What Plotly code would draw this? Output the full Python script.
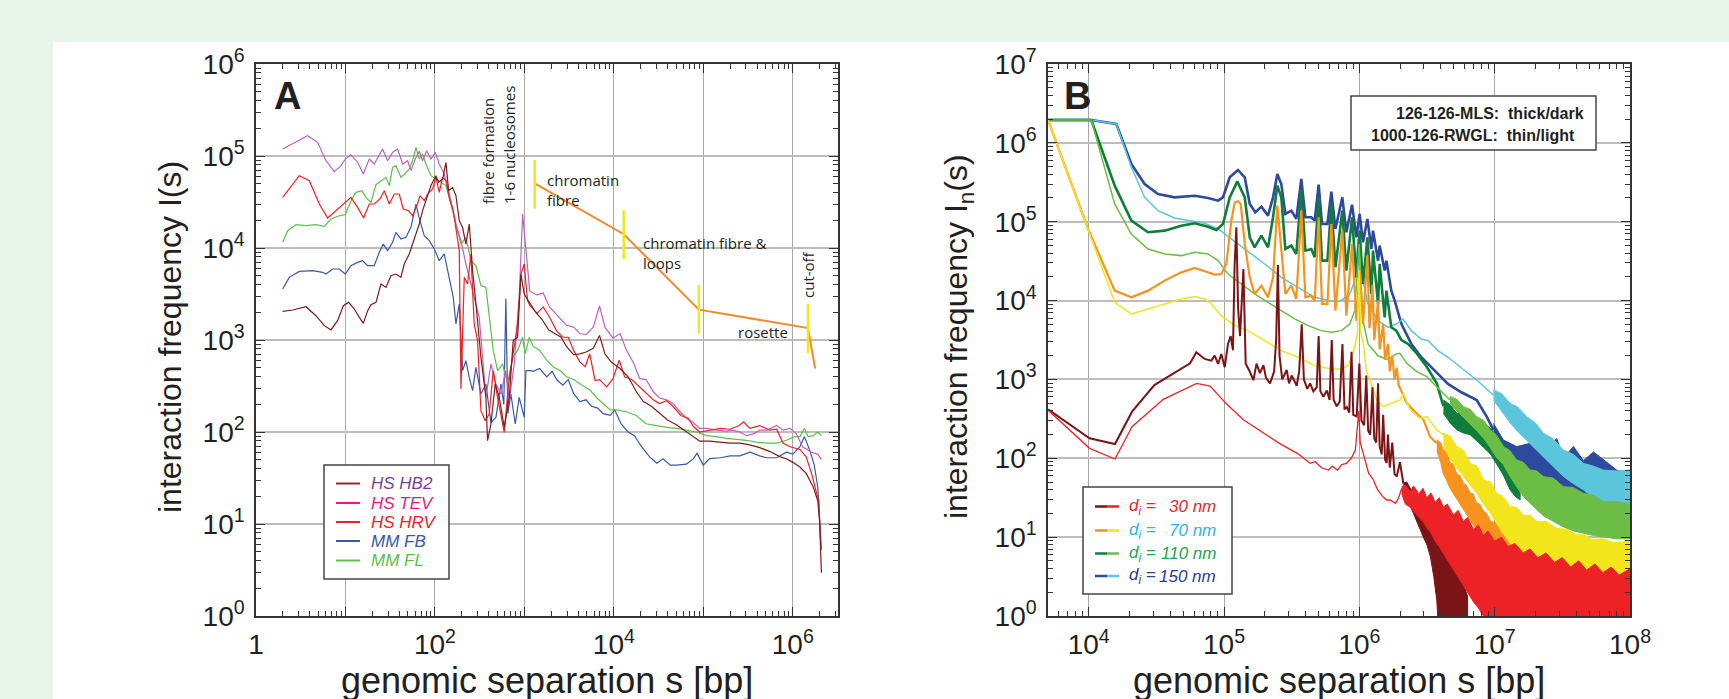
import plotly.graph_objects as go

W, H = 1729, 699

# ---------------- Panel A data: (log10 s [bp], log10 I(s)) ----------------
A_HS_HB2 = [(0.298,3.312),(0.410,3.326),(0.559,3.362),(0.670,3.264),(0.764,3.156),(0.838,3.109),(0.912,3.210),(0.976,3.373),(1.035,3.409),(1.099,3.337),(1.155,3.246),(1.199,3.181),(1.248,3.319),(1.285,3.384),(1.341,3.409),(1.397,3.609),(1.453,3.572),(1.508,3.699),(1.564,3.717),(1.620,3.681),(1.657,3.826),(1.713,3.935),(1.769,4.098),(1.825,4.261),(1.862,4.406),(1.918,4.569),(1.955,4.678),(2.011,4.786),(2.041,4.714),(2.086,4.750),(2.123,4.931),(2.153,4.623),(2.197,4.659),(2.235,4.569),(2.272,4.297),(2.309,4.225),(2.346,4.043),(2.384,4.261),(2.421,3.754),(2.466,3.319),(2.514,2.812),(2.570,2.377),(2.588,1.906),(2.626,2.087),(2.674,2.522),(2.719,2.377),(2.775,2.051),(2.831,2.377),(2.875,2.993),(2.924,3.029),(2.961,3.717),(2.998,3.500),(3.03,3.45),(3.12,3.31),(3.20,3.22),(3.27,3.11),(3.34,3.07),(3.41,3.03),(3.47,2.93),(3.55,2.84),(3.62,2.85),(3.69,2.87),(3.77,2.91),(3.84,3.05),(3.90,2.85),(3.97,2.76),(4.07,2.69),(4.16,2.60),(4.25,2.44),(4.33,2.33),(4.42,2.28),(4.51,2.20),(4.60,2.13),(4.70,2.08),(4.79,2.02),(4.89,1.95),(4.96,1.90),(5.07,1.90),(5.19,1.89),(5.30,1.88),(5.41,1.88),(5.52,1.86),(5.63,1.83),(5.74,1.79),(5.86,1.73),(5.93,1.71),(6.00,1.67),(6.08,1.62),(6.15,1.55),(6.23,1.40),(6.28,1.25),(6.30,1.03),(6.32,0.47)]
A_HS_TEV = [(0.298,5.076),(0.577,5.221),(0.689,5.149),(0.782,4.949),(0.875,4.830),(0.950,4.895),(0.998,4.967),(1.061,5.014),(1.136,4.931),(1.199,4.804),(1.266,4.967),(1.322,4.913),(1.415,5.076),(1.471,4.949),(1.527,5.040),(1.583,5.076),(1.639,4.913),(1.695,4.949),(1.732,4.841),(1.780,4.967),(1.825,5.051),(1.862,4.949),(1.907,5.058),(1.955,4.967),(2.004,5.040),(2.048,4.913),(2.104,4.804),(2.160,4.587),(2.235,4.261),(2.291,4.080),(2.346,3.826),(2.421,3.536),(2.495,3.246),(2.570,2.377),(2.626,2.739),(2.682,2.522),(2.737,2.413),(2.793,2.667),(2.831,2.341),(2.886,2.739),(2.942,3.464),(2.980,4.370),(3.06,3.53),(3.14,3.49),(3.21,3.51),(3.28,3.36),(3.38,3.25),(3.47,3.16),(3.55,3.14),(3.62,3.07),(3.69,3.06),(3.77,3.14),(3.84,3.37),(3.90,3.14),(3.99,3.02),(4.07,3.07),(4.14,2.89),(4.22,2.75),(4.29,2.58),(4.36,2.57),(4.44,2.44),(4.51,2.37),(4.59,2.35),(4.66,2.31),(4.74,2.22),(4.81,2.15),(4.89,2.10),(4.96,2.04),(5.04,2.04),(5.15,2.02),(5.26,2.01),(5.33,2.02),(5.41,2.00),(5.48,1.96),(5.56,1.98),(5.63,2.02),(5.71,2.02),(5.82,2.07),(5.89,2.02),(5.97,2.04),(6.04,1.98),(6.11,1.84),(6.21,1.78),(6.28,1.76),(6.32,1.70)]
A_HS_HRV = [(0.298,4.551),(0.484,4.786),(0.596,4.732),(0.708,4.478),(0.801,4.326),(0.894,4.406),(0.998,4.496),(1.061,4.551),(1.136,4.442),(1.203,4.326),(1.266,4.478),(1.322,4.478),(1.385,4.533),(1.434,4.623),(1.490,4.478),(1.546,4.587),(1.601,4.587),(1.646,4.424),(1.706,4.406),(1.750,4.351),(1.806,4.478),(1.832,4.569),(1.881,4.514),(1.918,4.587),(1.974,4.641),(2.011,4.768),(2.048,4.605),(2.086,4.768),(2.123,4.732),(2.160,4.551),(2.205,4.406),(2.235,4.225),(2.272,3.971),(2.291,2.467),(2.328,3.681),(2.365,3.609),(2.402,3.935),(2.439,3.174),(2.477,2.993),(2.514,2.232),(2.562,2.123),(2.607,2.196),(2.652,2.667),(2.700,2.377),(2.775,1.996),(2.823,2.522),(2.868,2.812),(2.924,3.174),(2.961,3.717),(2.998,3.826),(3.035,3.428),(3.06,3.38),(3.14,3.29),(3.21,3.36),(3.28,3.25),(3.36,3.10),(3.43,3.03),(3.49,3.03),(3.55,2.89),(3.62,2.76),(3.68,2.71),(3.73,2.85),(3.79,2.56),(3.84,2.57),(3.92,2.49),(3.99,2.58),(4.06,2.78),(4.12,2.60),(4.20,2.57),(4.29,2.49),(4.36,2.42),(4.44,2.35),(4.51,2.31),(4.59,2.34),(4.66,2.28),(4.75,2.18),(4.83,2.15),(4.89,2.06),(4.96,2.00),(5.07,2.02),(5.19,2.04),(5.30,2.03),(5.40,2.07),(5.45,2.11),(5.52,2.04),(5.63,2.07),(5.74,2.02),(5.82,2.03),(5.89,1.88),(5.97,1.84),(6.08,1.81),(6.15,1.73),(6.21,1.55),(6.26,1.36),(6.29,1.25),(6.31,0.83)]
A_MM_FB = [(0.298,3.554),(0.372,3.681),(0.484,3.746),(0.633,3.754),(0.745,3.736),(0.782,3.717),(0.857,3.772),(0.931,3.772),(0.998,3.717),(1.061,3.808),(1.136,3.844),(1.192,3.862),(1.248,3.808),(1.322,3.808),(1.378,3.953),(1.423,4.043),(1.471,3.971),(1.527,4.062),(1.564,4.170),(1.620,4.098),(1.676,4.116),(1.732,4.225),(1.788,4.478),(1.832,4.297),(1.881,4.134),(1.937,4.080),(1.993,3.989),(2.048,3.862),(2.104,3.935),(2.160,3.681),(2.205,3.464),(2.235,3.174),(2.272,3.391),(2.309,2.667),(2.346,2.775),(2.384,2.594),(2.421,2.449),(2.458,2.703),(2.514,2.413),(2.570,2.522),(2.626,2.105),(2.682,2.159),(2.737,2.522),(2.770,2.3),(2.793,3.45),(2.815,2.2),(2.849,2.413),(2.898,2.087),(2.942,2.377),(2.998,2.159),(3.017,2.667),(3.073,2.667),(3.10,2.66),(3.17,2.69),(3.25,2.60),(3.31,2.66),(3.36,2.57),(3.43,2.51),(3.49,2.57),(3.55,2.42),(3.62,2.33),(3.69,2.35),(3.75,2.28),(3.82,2.26),(3.88,2.20),(3.96,2.18),(4.01,2.24),(4.08,2.09),(4.16,2.00),(4.23,1.96),(4.31,1.84),(4.40,1.73),(4.48,1.66),(4.55,1.71),(4.63,1.64),(4.70,1.64),(4.81,1.65),(4.89,1.71),(4.93,1.77),(5.00,1.64),(5.07,1.71),(5.19,1.72),(5.30,1.74),(5.41,1.74),(5.52,1.78),(5.63,1.74),(5.71,1.72),(5.82,1.72),(5.93,1.78),(6.00,1.76),(6.08,1.84),(6.13,1.95),(6.19,1.80),(6.24,1.64),(6.28,1.40),(6.32,0.72)]
A_MM_FL = [(0.298,4.062),(0.354,4.188),(0.447,4.254),(0.559,4.243),(0.670,4.254),(0.764,4.236),(0.838,4.315),(0.931,4.351),(0.998,4.362),(1.061,4.514),(1.117,4.605),(1.184,4.623),(1.229,4.551),(1.285,4.496),(1.341,4.688),(1.397,4.732),(1.453,4.768),(1.490,4.678),(1.527,4.877),(1.564,4.895),(1.620,4.768),(1.657,4.797),(1.713,4.859),(1.750,4.949),(1.788,5.094),(1.825,4.967),(1.862,5.022),(1.899,4.913),(1.955,4.786),(2.011,4.750),(2.067,4.714),(2.123,4.678),(2.179,4.478),(2.235,4.261),(2.291,4.043),(2.346,4.116),(2.402,3.862),(2.458,3.808),(2.514,3.591),(2.570,3.572),(2.607,3.246),(2.652,2.884),(2.700,2.667),(2.756,2.739),(2.812,2.522),(2.868,2.812),(2.924,2.884),(2.980,3.029),(3.009,2.848),(3.054,3.029),(3.10,2.93),(3.17,2.89),(3.25,2.78),(3.32,2.71),(3.41,2.66),(3.47,2.60),(3.55,2.57),(3.64,2.51),(3.73,2.46),(3.81,2.37),(3.88,2.31),(3.96,2.24),(4.03,2.24),(4.14,2.22),(4.25,2.18),(4.36,2.09),(4.48,2.07),(4.59,2.05),(4.70,2.04),(4.81,2.02),(4.92,2.00),(5.04,1.96),(5.15,1.95),(5.26,1.93),(5.37,1.92),(5.48,1.91),(5.59,1.89),(5.71,1.88),(5.82,1.88),(5.93,1.91),(6.02,1.95),(6.08,1.95),(6.13,2.04),(6.17,1.95),(6.23,1.96),(6.28,2.00),(6.32,1.96)]

# regime guide (orange polyline) and yellow boundary markers: (log10 s, log10 I lo, log10 I hi)
A_REGIME_PATH = [(3.12,4.70),(4.11,4.15),(4.95,3.33),(6.17,3.13),(6.25,2.69)]
A_REGIME_MARKS = [(3.115,4.43,4.96),(4.11,3.88,4.41),(4.95,3.07,3.60),(6.17,2.86,3.39)]

# ---------------- Panel B data: (log10 s, log10 I_n(s)); noisy tails as (log10 s, lo, hi) ----------------
B_30_THICK = [(3.699,2.62),(4.006,2.253),(4.194,2.181),(4.32,2.591),(4.485,2.929),(4.65,3.098),(4.749,3.204),(4.795,3.344),(4.857,3.26),(4.906,3.238),(4.931,3.302),(4.956,3.196),(4.98,3.323),(5.005,3.154),(5.029,3.45),(5.049,3.55),(5.066,3.37),(5.078,4.45),(5.091,4.93),(5.104,3.9),(5.118,3.55),(5.143,4.4),(5.16,3.2),(5.19,3.1),(5.217,2.99),(5.24,3.2),(5.265,3.08),(5.291,3.18),(5.31,3.02),(5.34,2.95),(5.37,3.1),(5.385,3.5),(5.398,4.45),(5.41,3.3),(5.43,3.0),(5.463,3.12),(5.48,2.95),(5.50,3.05),(5.537,2.92),(5.555,3.1),(5.574,3.7),(5.59,3.0),(5.615,2.88),(5.636,2.95),(5.66,2.85),(5.685,2.9),(5.699,3.55),(5.712,2.85),(5.734,2.78),(5.76,2.86),(5.78,2.74),(5.796,3.5),(5.81,2.74),(5.833,2.66),(5.855,2.72),(5.875,3.45),(5.89,2.62),(5.907,2.65),(5.925,2.58),(5.942,3.35),(5.955,2.55),(5.98,2.53),(6.0,3.2),(6.015,2.48),(6.035,2.42),(6.051,3.05),(6.065,2.35),(6.08,2.3),(6.097,2.9),(6.11,2.25),(6.125,2.2),(6.138,2.95),(6.15,2.15),(6.165,2.05),(6.176,2.55),(6.19,1.98),(6.202,1.94),(6.211,2.3),(6.225,1.88),(6.243,2.2),(6.26,1.8),(6.276,1.77),(6.3,1.95),(6.325,1.68)]
B_30_THICK_TAIL = [(6.325,1.56,1.683),(6.35,1.48,1.7),(6.375,1.40,1.62),(6.40,1.3,1.58),(6.424,1.2,1.47),(6.45,1.1,1.45),(6.473,1.0,1.35),(6.50,0.9,1.32),(6.525,0.75,1.2),(6.55,0.5,1.18),(6.572,0.2,1.09),(6.596,-0.5,1.05),(6.621,-0.5,0.92),(6.65,-0.5,0.88),(6.695,-0.5,0.67),(6.72,-0.5,0.6),(6.769,-0.5,0.4),(6.80,-0.5,0.25)]
B_30_THIN = [(3.699,2.612),(4.006,2.126),(4.194,1.991),(4.32,2.401),(4.551,2.747),(4.798,2.95),(4.897,2.916),(5.013,2.697),(5.145,2.485),(5.277,2.337),(5.409,2.189),(5.541,2.063),(5.636,1.936),(5.673,1.957),(5.72,1.88),(5.772,1.851),(5.80,1.90),(5.838,1.851),(5.87,1.92),(5.904,1.936),(5.94,2.0),(5.97,2.105),(5.996,2.6),(6.006,2.2),(6.029,2.063),(6.069,1.809),(6.104,1.725),(6.135,1.598),(6.17,1.52),(6.201,1.471),(6.227,1.471),(6.267,1.429),(6.29,1.5),(6.313,1.62)]
B_30_THIN_TAIL = [(6.313,1.55,1.64),(6.34,1.42,1.66),(6.375,1.38,1.58),(6.40,1.33,1.65),(6.44,1.25,1.55),(6.47,1.2,1.62),(6.498,1.12,1.50),(6.53,1.05,1.56),(6.56,0.95,1.44),(6.59,0.88,1.50),(6.621,0.8,1.38),(6.65,0.72,1.42),(6.695,0.6,1.28),(6.73,0.5,1.34),(6.769,0.38,1.2),(6.80,0.3,1.25),(6.843,0.18,1.1),(6.88,0.1,1.15),(6.917,0.0,1.02),(6.95,-0.5,1.08),(7.0,-0.5,0.95),(7.05,-0.5,1.0),(7.1,-0.5,0.88),(7.15,-0.5,0.92),(7.21,-0.5,0.8),(7.26,-0.5,0.85),(7.32,-0.5,0.74),(7.38,-0.5,0.8),(7.44,-0.5,0.68),(7.5,-0.5,0.74),(7.56,-0.5,0.62),(7.62,-0.5,0.7),(7.68,-0.5,0.58),(7.74,-0.5,0.66),(7.8,-0.5,0.55),(7.86,-0.5,0.62),(7.92,-0.5,0.52),(8.0,-0.5,0.6)]
B_70_THICK = [(3.699,6.29),(3.995,4.908),(4.192,4.126),(4.315,4.041),(4.438,4.126),(4.561,4.253),(4.684,4.358),(4.783,4.413),(4.857,4.371),(4.931,4.329),(4.98,4.337),(5.017,4.464),(5.054,5.014),(5.079,5.246),(5.103,5.259),(5.123,5.225),(5.153,4.718),(5.19,4.295),(5.226,4.084),(5.276,4.189),(5.325,4.041),(5.362,4.295),(5.394,5.204),(5.423,4.633),(5.453,4.084),(5.497,4.189),(5.534,4.02),(5.571,5.14),(5.601,4.041),(5.645,4.063),(5.67,3.991),(5.699,5.056),(5.724,3.957),(5.764,3.957),(5.793,4.971),(5.823,3.872),(5.874,4.887),(5.904,3.809),(5.946,4.718),(5.978,3.746),(6.002,4.38),(6.027,3.703),(6.059,4.57),(6.075,3.65),(6.097,4.2),(6.11,3.5),(6.138,4.0),(6.15,3.38),(6.176,3.7),(6.19,3.25),(6.211,3.45),(6.225,3.1),(6.243,3.3),(6.26,3.0),(6.276,3.15),(6.29,2.93),(6.313,2.85),(6.35,2.70),(6.399,2.61),(6.44,2.55),(6.473,2.49),(6.523,2.27),(6.572,2.19)]
B_70_THICK_TAIL = [(6.572,2.10,2.232),(6.60,1.95,2.2),(6.621,1.80,2.105),(6.645,1.72,2.08),(6.67,1.62,1.95),(6.695,1.55,1.92),(6.72,1.48,1.80),(6.745,1.42,1.78),(6.769,1.36,1.683),(6.79,1.3,1.66),(6.818,1.22,1.56),(6.84,1.16,1.55),(6.867,1.1,1.43),(6.89,1.05,1.42),(6.917,1.0,1.33),(6.941,0.92,1.3),(6.97,0.86,1.2),(7.015,0.78,1.18),(7.05,0.7,1.05),(7.089,0.62,1.05),(7.13,0.55,0.92),(7.18,0.4,0.9),(7.237,0.3,0.78),(7.29,-0.5,0.75),(7.35,-0.5,0.65),(7.42,-0.5,0.62),(7.483,-0.5,0.54),(8.0,-0.5,0.33)]
B_70_THIN = [(3.699,6.29),(4.192,3.978),(4.315,3.83),(4.438,3.893),(4.561,3.957),(4.684,4.02),(4.783,4.05),(4.857,4.02),(4.906,3.957),(4.98,3.809),(5.079,3.682),(5.177,3.619),(5.3,3.492),(5.423,3.365),(5.547,3.281),(5.67,3.175),(5.793,3.133),(5.867,3.133),(5.916,3.175),(5.953,3.323),(5.985,3.577),(5.998,4.38),(6.01,3.6),(6.03,3.45),(6.052,3.1),(6.079,2.993),(6.128,2.739),(6.178,2.655),(6.239,2.697),(6.3,2.739),(6.325,2.824),(6.375,2.612),(6.449,2.507),(6.498,2.528),(6.572,2.359),(6.621,2.3)]
B_70_THIN_TAIL = [(6.621,2.15,2.317),(6.67,2.0,2.28),(6.72,1.88,2.148),(6.77,1.77,2.1),(6.818,1.66,1.936),(6.87,1.55,1.9),(6.917,1.42,1.725),(6.97,1.3,1.7),(7.015,1.17,1.556),(7.06,1.05,1.52),(7.114,0.92,1.387),(7.16,0.85,1.38),(7.212,0.75,1.28),(7.26,0.62,1.28),(7.311,0.5,1.2),(7.38,0.4,1.2),(7.459,0.3,1.11),(7.53,0.2,1.1),(7.606,0.05,1.03),(7.66,-0.5,1.03),(7.72,-0.5,0.97),(7.8,-0.5,0.98),(7.88,-0.5,0.93),(8.0,-0.5,0.95)]
B_110_THICK = [(3.699,6.29),(4.019,6.29),(4.192,5.457),(4.315,5.014),(4.438,4.866),(4.561,4.887),(4.684,4.95),(4.783,4.98),(4.882,4.937),(4.943,4.895),(4.992,4.971),(5.042,5.309),(5.098,5.512),(5.153,5.309),(5.19,4.802),(5.226,4.675),(5.276,4.823),(5.325,4.675),(5.362,5.056),(5.394,5.457),(5.423,5.309),(5.453,4.654),(5.497,4.697),(5.534,4.591),(5.571,5.402),(5.601,4.633),(5.645,4.654),(5.67,4.549),(5.699,5.309),(5.724,4.506),(5.764,4.506),(5.793,5.225),(5.823,4.422),(5.874,5.14),(5.904,4.38),(5.946,5.056),(5.978,4.295),(6.002,4.887),(6.027,4.21),(6.059,4.802),(6.089,4.084),(6.101,4.633),(6.138,3.957),(6.15,4.464),(6.187,3.788),(6.2,4.126),(6.236,3.661),(6.273,3.619),(6.311,3.5),(6.36,3.45),(6.424,3.33),(6.498,3.16),(6.572,2.95),(6.621,2.66)]
B_110_THICK_TAIL = [(6.621,2.57,2.739),(6.67,2.45,2.68),(6.72,2.36,2.57),(6.77,2.32,2.56),(6.818,2.3,2.528),(6.87,2.22,2.5),(6.917,2.14,2.443),(6.97,2.05,2.38),(7.015,1.93,2.274),(7.06,1.8,2.2),(7.114,1.6,2.063),(7.15,1.52,1.95),(7.188,1.47,1.77)]
B_110_THIN = [(3.699,6.29),(4.019,6.29),(4.192,5.225),(4.315,4.844),(4.438,4.654),(4.561,4.591),(4.684,4.57),(4.783,4.612),(4.882,4.591),(4.956,4.506),(5.029,4.337),(5.128,4.211),(5.226,4.084),(5.325,3.978),(5.423,3.872),(5.522,3.767),(5.621,3.682),(5.719,3.619),(5.793,3.598),(5.867,3.619),(5.929,3.703),(5.966,3.872),(5.998,4.718),(6.027,3.746),(6.064,3.45),(6.138,3.3),(6.212,3.25),(6.273,3.323),(6.3,3.331),(6.35,3.204),(6.424,3.099),(6.498,3.035),(6.572,2.908),(6.67,2.74)]
B_110_THIN_TAIL = [(6.67,2.69,2.782),(6.72,2.6,2.75),(6.769,2.52,2.655),(6.82,2.43,2.62),(6.867,2.35,2.528),(6.92,2.25,2.48),(6.966,2.14,2.359),(7.01,2.02,2.3),(7.064,1.92,2.148),(7.11,1.78,2.1),(7.163,1.64,1.978),(7.21,1.52,1.95),(7.262,1.43,1.852),(7.31,1.35,1.84),(7.36,1.27,1.767),(7.43,1.2,1.75),(7.508,1.13,1.64),(7.58,1.08,1.63),(7.656,1.05,1.556),(7.73,1.02,1.53),(7.804,1.0,1.45),(7.9,0.98,1.45),(8.0,0.98,1.42)]
B_150_THICK = [(3.699,6.29),(4.019,6.29),(4.204,6.239),(4.315,5.732),(4.413,5.478),(4.512,5.352),(4.635,5.309),(4.783,5.33),(4.882,5.30),(4.956,5.267),(4.992,5.309),(5.042,5.563),(5.103,5.656),(5.153,5.563),(5.19,5.225),(5.231,5.119),(5.276,5.191),(5.325,5.077),(5.362,5.309),(5.394,5.605),(5.423,5.478),(5.453,5.098),(5.497,5.14),(5.534,5.035),(5.571,5.542),(5.601,5.056),(5.645,5.056),(5.67,5.014),(5.699,5.47),(5.724,4.971),(5.764,4.971),(5.793,5.381),(5.823,4.908),(5.874,5.309),(5.904,4.866),(5.946,5.216),(5.978,4.802),(6.002,5.098),(6.027,4.739),(6.059,5.035),(6.089,4.654),(6.101,4.887),(6.138,4.506),(6.15,4.697),(6.187,4.38),(6.2,4.506),(6.224,4.253),(6.236,4.126),(6.261,3.999),(6.311,3.703),(6.384,3.45),(6.458,3.281),(6.557,3.111),(6.655,2.943),(6.754,2.837),(6.867,2.739),(6.941,2.528),(6.991,2.36)]
B_150_THICK_TAIL = [(6.991,2.274,2.443),(7.064,2.063,2.232),(7.163,1.936,2.148),(7.262,1.852,2.19),(7.36,1.767,2.105),(7.459,1.725,2.25),(7.508,1.598,2.0),(7.582,1.556,2.15),(7.656,1.429,1.97),(7.73,1.387,2.08),(7.828,1.26,1.95),(7.902,1.175,1.85),(8.0,1.091,1.80)]
B_150_THIN = [(3.699,6.29),(4.019,6.29),(4.204,6.239),(4.315,5.69),(4.413,5.309),(4.512,5.14),(4.635,5.047),(4.758,5.014),(4.857,4.98),(4.956,4.908),(5.054,4.781),(5.177,4.633),(5.3,4.464),(5.423,4.295),(5.547,4.168),(5.67,4.041),(5.793,3.991),(5.867,3.999),(5.929,4.084),(5.966,4.253),(5.99,4.781),(6.0,4.5),(6.027,4.253),(6.064,3.957),(6.138,3.746),(6.212,3.661),(6.273,3.703),(6.323,3.767),(6.384,3.619),(6.458,3.513),(6.508,3.492),(6.581,3.365),(6.655,3.281),(6.744,3.162),(6.867,2.993),(6.991,2.80)]
B_150_THIN_TAIL = [(6.991,2.739,2.866),(7.05,2.6,2.82),(7.114,2.45,2.697),(7.17,2.34,2.65),(7.237,2.23,2.528),(7.3,2.12,2.45),(7.36,2.02,2.317),(7.43,1.9,2.25),(7.508,1.77,2.105),(7.58,1.68,2.05),(7.656,1.6,1.936),(7.73,1.5,1.9),(7.804,1.43,1.85),(7.9,1.36,1.84),(8.0,1.30,1.85)]

# ---------------- styling ----------------
BG = "#e9f4eb"
FONT = "Liberation Sans"
TXT = "#231f20"
C_A = {"HB2": "#7d1b1d", "TEV": "#c060c0", "HRV": "#ec2027", "FB": "#3b57a8", "FL": "#5cbf4a"}
C_B = {"r_dark": "#7b1416", "r_light": "#ec2227", "o_dark": "#f7931d", "o_light": "#f2e51b",
       "g_dark": "#0f7d3c", "g_light": "#6cbd45", "b_dark": "#2e4a9e", "b_light": "#5bc6db"}

def X(px):
    return px / W

def Y(py):
    return 1 - py / H

def line(pts, color, width, xa, ya):
    return go.Scatter(x=[10 ** p[0] for p in pts], y=[10 ** p[1] for p in pts], mode="lines",
                      line=dict(color=color, width=width), xaxis=xa, yaxis=ya,
                      showlegend=False, hoverinfo="skip")

def band(tri, color, xa, ya):
    xs = [10 ** t[0] for t in tri]
    lo = [10 ** t[1] for t in tri]
    hi = [10 ** t[2] for t in tri]
    return go.Scatter(x=xs + xs[::-1], y=hi + lo[::-1], mode="lines", fill="toself",
                      fillcolor=color, line=dict(color=color, width=1), xaxis=xa, yaxis=ya,
                      showlegend=False, hoverinfo="skip")

fig = go.Figure()

# Panel A curves
for pts, key in [(A_MM_FB, "FB"), (A_MM_FL, "FL"), (A_HS_TEV, "TEV"), (A_HS_HRV, "HRV"), (A_HS_HB2, "HB2")]:
    fig.add_trace(line(pts, C_A[key], 1.2, "x", "y"))
fig.add_trace(line(A_REGIME_PATH, "#f58a2c", 2, "x", "y"))
mx, my = [], []
for lx, lo, hi in A_REGIME_MARKS:
    mx += [10 ** lx, 10 ** lx, None]
    my += [10 ** lo, 10 ** hi, None]
fig.add_trace(go.Scatter(x=mx, y=my, mode="lines", line=dict(color="#f5e616", width=2.5),
                         xaxis="x", yaxis="y", showlegend=False, hoverinfo="skip"))

# Panel B curves
for (ln, tail, key, wd) in [
    (B_150_THICK, B_150_THICK_TAIL, "b_dark", 2.6),
    (B_150_THIN, B_150_THIN_TAIL, "b_light", 1.5),
    (B_110_THICK, B_110_THICK_TAIL, "g_dark", 2.6),
    (B_110_THIN, B_110_THIN_TAIL, "g_light", 1.5),
    (B_70_THICK, B_70_THICK_TAIL, "o_dark", 2.2),
    (B_70_THIN, B_70_THIN_TAIL, "o_light", 1.5),
    (B_30_THICK, B_30_THICK_TAIL, "r_dark", 2.0),
    (B_30_THIN, B_30_THIN_TAIL, "r_light", 1.3),
]:
    fig.add_trace(band(tail, C_B[key], "x2", "y2"))
    fig.add_trace(line(ln, C_B[key], wd, "x2", "y2"))

def sup(k):
    return "10<sup>%d</sup>" % k

def minor_vals(lo, hi):
    return [m * 10 ** k for k in range(lo, hi) for m in range(2, 10)]

axis_common = dict(type="log", showline=True, linecolor="#333", linewidth=1.5, mirror="allticks",
                   ticks="inside", ticklen=9, tickwidth=1.2, tickcolor="#333", automargin=False,
                   tickfont=dict(family=FONT, size=28, color=TXT), tickmode="array", zeroline=False)

fig.update_layout(
    width=W, height=H, margin=dict(l=0, r=0, t=0, b=0, pad=0), autosize=False,
    paper_bgcolor=BG, plot_bgcolor="white",
    xaxis=dict(axis_common, domain=[X(256), X(837.5)], range=[0, 6.5], anchor="y",
               tickvals=[10 ** k for k in range(7)],
               ticktext=["1", "", sup(2), "", sup(4), "", sup(6)],
               showgrid=True, gridcolor="#a8a8a8", gridwidth=1, ticklabelstandoff=3,
               minor=dict(tickmode="array", tickvals=minor_vals(0, 7), ticks="inside", ticklen=5,
                          tickcolor="#333", showgrid=False)),
    yaxis=dict(axis_common, domain=[Y(616), Y(64)], range=[0, 6], anchor="x",
               tickvals=[10 ** k for k in range(7)], ticktext=[sup(k) for k in range(7)],
               showgrid=True, gridcolor="#bdbdbd", gridwidth=2, ticklabelstandoff=4,
               minor=dict(tickmode="array", tickvals=minor_vals(0, 6), ticks="inside", ticklen=5,
                          tickcolor="#333", showgrid=False)),
    xaxis2=dict(axis_common, domain=[X(1048), X(1630)], range=[3.699, 8.0], anchor="y2",
                tickvals=[10 ** k for k in range(4, 9)], ticktext=[sup(k) for k in range(4, 9)],
                showgrid=True, gridcolor="#a8a8a8", gridwidth=1, ticklabelstandoff=3,
                minor=dict(tickmode="array", tickvals=minor_vals(3, 8), ticks="inside", ticklen=5,
                           tickcolor="#333", showgrid=False)),
    yaxis2=dict(axis_common, domain=[Y(616), Y(64)], range=[0, 7], anchor="x2",
                tickvals=[10 ** k for k in range(8)], ticktext=[sup(k) for k in range(8)],
                showgrid=True, gridcolor="#bdbdbd", gridwidth=2, ticklabelstandoff=4,
                minor=dict(tickmode="array", tickvals=minor_vals(0, 7), ticks="inside", ticklen=5,
                           tickcolor="#333", showgrid=False)),
)

shapes = [dict(type="rect", xref="paper", yref="paper", x0=X(53), x1=1.0, y0=0, y1=Y(42),
               fillcolor="white", line=dict(width=0), layer="below")]
ann = []

def text(x, y, s, size, color=TXT, xanchor="center", yanchor="middle", angle=0, family=FONT, align="left"):
    ann.append(dict(x=X(x), y=Y(y), xref="paper", yref="paper", text=s, showarrow=False,
                    xanchor=xanchor, yanchor=yanchor, textangle=angle, align=align,
                    font=dict(family=family, size=size, color=color)))

# panel letters
text(272, 96, "<b>A</b>", 38, xanchor="left")
text(1062, 96, "<b>B</b>", 38, xanchor="left")

# axis titles
text(170, 337, "interaction frequency I(s)", 32, angle=-90)
text(958, 337, "interaction frequency I<sub>n</sub>(s)", 32, angle=-90)
text(547, 680, "genomic separation s [bp]", 36)
text(1339, 680, "genomic separation s [bp]", 36)

# panel A regime labels
OS = "Open Sans"
text(488, 206, "fibre formation", 15, angle=-90, yanchor="bottom", family=OS)
text(509, 206, "1-6 nucleosomes", 15, angle=-90, yanchor="bottom", family=OS)
text(545, 190, "chromatin<br>fibre", 15, xanchor="left", family=OS)
text(641, 253, "chromatin fibre &amp;<br>loops", 15, xanchor="left", family=OS)
text(736, 332, "rosette", 15, xanchor="left", family=OS)
text(808, 275, "cut-off", 15, angle=-90, family=OS)

# panel A legend (custom box)
shapes.append(dict(type="rect", xref="paper", yref="paper", x0=X(324), x1=X(449), y0=Y(579), y1=Y(465),
                   fillcolor="white", line=dict(color="#444", width=1.5), layer="above"))
legA = [("HS HB2", "#8b2a2a", "#7b3f98"), ("HS TEV", "#e5198a", "#e5198a"), ("HS HRV", "#ec2027", "#ec2027"),
        ("MM FB", "#3b57a8", "#3b57a8"), ("MM FL", "#5cbf4a", "#5cbf4a")]
for (lab, lc, tc), ry in zip(legA, [483.5, 503, 522, 541, 560.5]):
    shapes.append(dict(type="line", xref="paper", yref="paper", x0=X(336), x1=X(360), y0=Y(ry), y1=Y(ry),
                       line=dict(color=lc, width=2), layer="above"))
    text(369, ry, "<i>%s</i>" % lab, 17, color=tc, xanchor="left")

# panel B legend (custom box, dark/light two-tone samples)
shapes.append(dict(type="rect", xref="paper", yref="paper", x0=X(1083), x1=X(1232), y0=Y(594), y1=Y(487),
                   fillcolor="white", line=dict(color="#444", width=1.5), layer="above"))
legB = [("30 nm", "r_dark", "r_light", "#e8262a"), ("70 nm", "o_dark", "o_light", "#30b2e4"),
        ("110 nm", "g_dark", "g_light", "#1fa64a"), ("150 nm", "b_dark", "b_light", "#2e3b8f")]
for (lab, dk, lt, tc), ry in zip(legB, [506.5, 530.5, 553.5, 576]):
    shapes.append(dict(type="line", xref="paper", yref="paper", x0=X(1095), x1=X(1107), y0=Y(ry), y1=Y(ry),
                       line=dict(color=C_B[dk], width=2.5), layer="above"))
    shapes.append(dict(type="line", xref="paper", yref="paper", x0=X(1107), x1=X(1119), y0=Y(ry), y1=Y(ry),
                       line=dict(color=C_B[lt], width=2.5), layer="above"))
    text(1127, ry, "<i>d<sub>i</sub> =</i>", 17, color=tc, xanchor="left")
    text(1218, ry, "<i>%s</i>" % lab, 17, color=tc, xanchor="right")

# panel B model box
shapes.append(dict(type="rect", xref="paper", yref="paper", x0=X(1351), x1=X(1596), y0=Y(150), y1=Y(96),
                   fillcolor="white", line=dict(color="#444", width=1.5), layer="above"))
text(1586, 114, "<b>126-126-MLS:\u00a0 thick/dark</b>", 16, xanchor="right")
text(1577, 135, "<b>1000-126-RWGL:\u00a0 thin/light</b>", 16, xanchor="right")

fig.update_layout(shapes=shapes, annotations=ann)
fig.write_html("out.html", config={"displayModeBar": False},
               post_script="document.body.style.margin='0';document.body.style.overflow='hidden';")
